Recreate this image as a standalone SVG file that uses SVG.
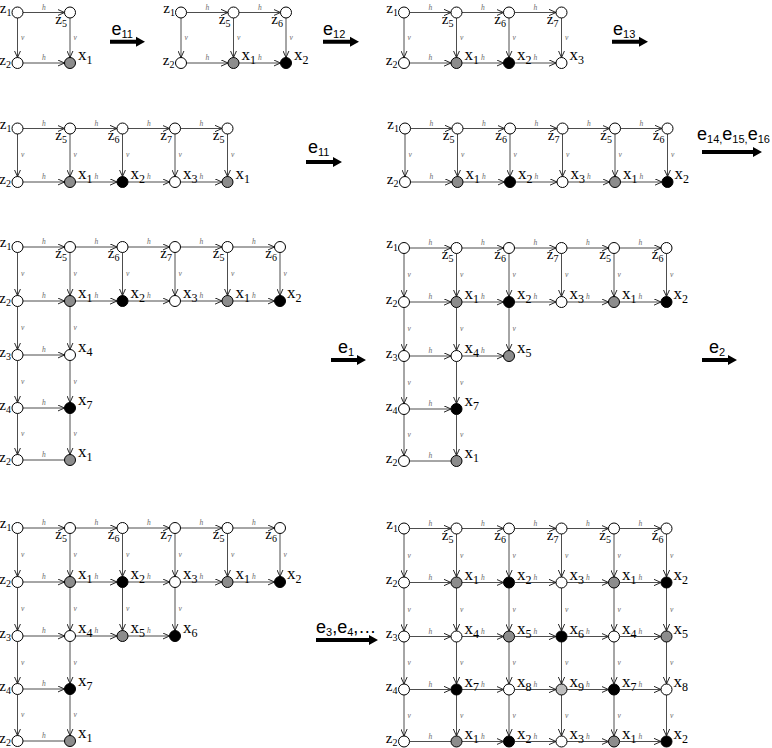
<svg xmlns="http://www.w3.org/2000/svg" width="772" height="748" viewBox="0 0 772 748">
<defs>
<marker id="ah" viewBox="0 0 10 10" refX="10" refY="5" markerWidth="7" markerHeight="7" markerUnits="userSpaceOnUse" orient="auto"><path d="M0,0.5 L10,5 L0,9.5" fill="none" stroke="#222" stroke-width="1.4"/></marker>
</defs>
<style>
.c line{stroke:#4d4d4d;stroke-width:1;marker-end:url(#ah)}
.c line.nm{marker-end:none}
.c text{font-family:"Liberation Serif",serif;font-style:italic;font-size:7.5px;fill:#6a6a6a}
.c text.h{text-anchor:middle}
circle{stroke:#000;stroke-width:1}
.w{fill:#fff}.g{fill:#8c8c8c}.b{fill:#000}.l{fill:#bdbdbd}
.z,.x{font-family:"Liberation Serif","Times New Roman",serif;fill:#000}
.z{font-size:15px;text-anchor:end}.z tspan{font-size:10px}
.x{font-size:17px}.x tspan{font-size:12px}
.big path{fill:#000}
.big text{font-family:"Liberation Sans",Arial,sans-serif;font-size:18px;fill:#000}
.big tspan{font-size:11px}.big tspan.m{font-size:18px}
</style>
<rect width="772" height="748" fill="#fff"/>

<!-- Panel A -->
<g id="panel-A" transform="translate(17.5,12.5)">
<g id="A-edges" class="c">
<line x1="5.5" y1="0" x2="47" y2="0"/><text class="h" x="26.25" y="-3">h</text>
<line x1="5.5" y1="50.5" x2="47" y2="50.5"/><text class="h" x="26.25" y="47.5">h</text>
<line x1="0" y1="5.5" x2="0" y2="45"/><text x="3.5" y="27.25">v</text>
<line x1="52.5" y1="5.5" x2="52.5" y2="45"/><text x="56" y="27.25">v</text>
</g>
<g id="A-z1"><circle class="w" cx="0" cy="0" r="5.5"/><text class="z" x="-6" y="0">z<tspan dy="3">1</tspan></text></g>
<g id="A-z5"><circle class="w" cx="52.5" cy="0" r="5.5"/><text class="z" x="49.5" y="11">z<tspan dy="3">5</tspan></text></g>
<g id="A-z2"><circle class="w" cx="0" cy="50.5" r="5.5"/><text class="z" x="-6.5" y="52">z<tspan dy="3">2</tspan></text></g>
<g id="A-x1"><circle class="g" cx="52.5" cy="50.5" r="5.5"/><text class="x" x="60.5" y="47.5">x<tspan dy="4">1</tspan></text></g>
</g>

<!-- Panel B -->
<g id="panel-B" transform="translate(181,12.5)">
<g id="B-edges" class="c">
<line x1="5.5" y1="0" x2="47" y2="0"/><text class="h" x="26.25" y="-3">h</text>
<line x1="58" y1="0" x2="99.5" y2="0"/><text class="h" x="78.75" y="-3">h</text>
<line x1="5.5" y1="50.5" x2="47" y2="50.5"/><text class="h" x="26.25" y="47.5">h</text>
<line x1="58" y1="50.5" x2="99.5" y2="50.5"/><text class="h" x="78.75" y="47.5">h</text>
<line x1="0" y1="5.5" x2="0" y2="45"/><text x="3.5" y="27.25">v</text>
<line x1="52.5" y1="5.5" x2="52.5" y2="45"/><text x="56" y="27.25">v</text>
<line x1="105" y1="5.5" x2="105" y2="45"/><text x="108.5" y="27.25">v</text>
</g>
<g id="B-z1"><circle class="w" cx="0" cy="0" r="5.5"/><text class="z" x="-6" y="0">z<tspan dy="3">1</tspan></text></g>
<g id="B-z5"><circle class="w" cx="52.5" cy="0" r="5.5"/><text class="z" x="49.5" y="11">z<tspan dy="3">5</tspan></text></g>
<g id="B-z6"><circle class="w" cx="105" cy="0" r="5.5"/><text class="z" x="102" y="11">z<tspan dy="3">6</tspan></text></g>
<g id="B-z2"><circle class="w" cx="0" cy="50.5" r="5.5"/><text class="z" x="-6.5" y="52">z<tspan dy="3">2</tspan></text></g>
<g id="B-x1"><circle class="g" cx="52.5" cy="50.5" r="5.5"/><text class="x" x="60.5" y="47.5">x<tspan dy="4">1</tspan></text></g>
<g id="B-x2"><circle class="b" cx="105" cy="50.5" r="5.5"/><text class="x" x="113" y="47.5">x<tspan dy="4">2</tspan></text></g>
</g>

<!-- Panel C -->
<g id="panel-C" transform="translate(404,12.5)">
<g id="C-edges" class="c">
<line x1="5.5" y1="0" x2="47" y2="0"/><text class="h" x="26.25" y="-3">h</text>
<line x1="58" y1="0" x2="99.5" y2="0"/><text class="h" x="78.75" y="-3">h</text>
<line x1="110.5" y1="0" x2="152" y2="0"/><text class="h" x="131.25" y="-3">h</text>
<line x1="5.5" y1="50.5" x2="47" y2="50.5"/><text class="h" x="26.25" y="47.5">h</text>
<line x1="58" y1="50.5" x2="99.5" y2="50.5"/><text class="h" x="78.75" y="47.5">h</text>
<line x1="110.5" y1="50.5" x2="152" y2="50.5"/><text class="h" x="131.25" y="47.5">h</text>
<line x1="0" y1="5.5" x2="0" y2="45"/><text x="3.5" y="27.25">v</text>
<line x1="52.5" y1="5.5" x2="52.5" y2="45"/><text x="56" y="27.25">v</text>
<line x1="105" y1="5.5" x2="105" y2="45"/><text x="108.5" y="27.25">v</text>
<line x1="157.5" y1="5.5" x2="157.5" y2="45"/><text x="161" y="27.25">v</text>
</g>
<g id="C-z1"><circle class="w" cx="0" cy="0" r="5.5"/><text class="z" x="-6" y="0">z<tspan dy="3">1</tspan></text></g>
<g id="C-z5"><circle class="w" cx="52.5" cy="0" r="5.5"/><text class="z" x="49.5" y="11">z<tspan dy="3">5</tspan></text></g>
<g id="C-z6"><circle class="w" cx="105" cy="0" r="5.5"/><text class="z" x="102" y="11">z<tspan dy="3">6</tspan></text></g>
<g id="C-z7"><circle class="w" cx="157.5" cy="0" r="5.5"/><text class="z" x="154.5" y="11">z<tspan dy="3">7</tspan></text></g>
<g id="C-z2"><circle class="w" cx="0" cy="50.5" r="5.5"/><text class="z" x="-6.5" y="52">z<tspan dy="3">2</tspan></text></g>
<g id="C-x1"><circle class="g" cx="52.5" cy="50.5" r="5.5"/><text class="x" x="60.5" y="47.5">x<tspan dy="4">1</tspan></text></g>
<g id="C-x2"><circle class="b" cx="105" cy="50.5" r="5.5"/><text class="x" x="113" y="47.5">x<tspan dy="4">2</tspan></text></g>
<g id="C-x3"><circle class="w" cx="157.5" cy="50.5" r="5.5"/><text class="x" x="165.5" y="47.5">x<tspan dy="4">3</tspan></text></g>
</g>

<!-- Panel D -->
<g id="panel-D" transform="translate(17.5,128.5)">
<g id="D-edges" class="c">
<line x1="5.5" y1="0" x2="47" y2="0"/><text class="h" x="26.25" y="-3">h</text>
<line x1="58" y1="0" x2="99.5" y2="0"/><text class="h" x="78.75" y="-3">h</text>
<line x1="110.5" y1="0" x2="152" y2="0"/><text class="h" x="131.25" y="-3">h</text>
<line x1="163" y1="0" x2="204.5" y2="0"/><text class="h" x="183.75" y="-3">h</text>
<line x1="5.5" y1="53.5" x2="47" y2="53.5"/><text class="h" x="26.25" y="50.5">h</text>
<line x1="58" y1="53.5" x2="99.5" y2="53.5"/><text class="h" x="78.75" y="50.5">h</text>
<line x1="110.5" y1="53.5" x2="152" y2="53.5"/><text class="h" x="131.25" y="50.5">h</text>
<line x1="163" y1="53.5" x2="204.5" y2="53.5"/><text class="h" x="183.75" y="50.5">h</text>
<line x1="0" y1="5.5" x2="0" y2="48"/><text x="3.5" y="28.75">v</text>
<line x1="52.5" y1="5.5" x2="52.5" y2="48"/><text x="56" y="28.75">v</text>
<line x1="105" y1="5.5" x2="105" y2="48"/><text x="108.5" y="28.75">v</text>
<line x1="157.5" y1="5.5" x2="157.5" y2="48"/><text x="161" y="28.75">v</text>
<line x1="210" y1="5.5" x2="210" y2="48"/><text x="213.5" y="28.75">v</text>
</g>
<g id="D-z1"><circle class="w" cx="0" cy="0" r="5.5"/><text class="z" x="-6" y="0">z<tspan dy="3">1</tspan></text></g>
<g id="D-z5a"><circle class="w" cx="52.5" cy="0" r="5.5"/><text class="z" x="49.5" y="11">z<tspan dy="3">5</tspan></text></g>
<g id="D-z6"><circle class="w" cx="105" cy="0" r="5.5"/><text class="z" x="102" y="11">z<tspan dy="3">6</tspan></text></g>
<g id="D-z7"><circle class="w" cx="157.5" cy="0" r="5.5"/><text class="z" x="154.5" y="11">z<tspan dy="3">7</tspan></text></g>
<g id="D-z5b"><circle class="w" cx="210" cy="0" r="5.5"/><text class="z" x="207" y="11">z<tspan dy="3">5</tspan></text></g>
<g id="D-z2"><circle class="w" cx="0" cy="53.5" r="5.5"/><text class="z" x="-6.5" y="55">z<tspan dy="3">2</tspan></text></g>
<g id="D-x1a"><circle class="g" cx="52.5" cy="53.5" r="5.5"/><text class="x" x="60.5" y="50.5">x<tspan dy="4">1</tspan></text></g>
<g id="D-x2"><circle class="b" cx="105" cy="53.5" r="5.5"/><text class="x" x="113" y="50.5">x<tspan dy="4">2</tspan></text></g>
<g id="D-x3"><circle class="w" cx="157.5" cy="53.5" r="5.5"/><text class="x" x="165.5" y="50.5">x<tspan dy="4">3</tspan></text></g>
<g id="D-x1b"><circle class="g" cx="210" cy="53.5" r="5.5"/><text class="x" x="218" y="50.5">x<tspan dy="4">1</tspan></text></g>
</g>

<!-- Panel E -->
<g id="panel-E" transform="translate(405,128.5)">
<g id="E-edges" class="c">
<line x1="5.5" y1="0" x2="47" y2="0"/><text class="h" x="26.25" y="-3">h</text>
<line x1="58" y1="0" x2="99.5" y2="0"/><text class="h" x="78.75" y="-3">h</text>
<line x1="110.5" y1="0" x2="152" y2="0"/><text class="h" x="131.25" y="-3">h</text>
<line x1="163" y1="0" x2="204.5" y2="0"/><text class="h" x="183.75" y="-3">h</text>
<line x1="215.5" y1="0" x2="257" y2="0"/><text class="h" x="236.25" y="-3">h</text>
<line x1="5.5" y1="53.5" x2="47" y2="53.5"/><text class="h" x="26.25" y="50.5">h</text>
<line x1="58" y1="53.5" x2="99.5" y2="53.5"/><text class="h" x="78.75" y="50.5">h</text>
<line x1="110.5" y1="53.5" x2="152" y2="53.5"/><text class="h" x="131.25" y="50.5">h</text>
<line x1="163" y1="53.5" x2="204.5" y2="53.5"/><text class="h" x="183.75" y="50.5">h</text>
<line x1="215.5" y1="53.5" x2="257" y2="53.5"/><text class="h" x="236.25" y="50.5">h</text>
<line x1="0" y1="5.5" x2="0" y2="48"/><text x="3.5" y="28.75">v</text>
<line x1="52.5" y1="5.5" x2="52.5" y2="48"/><text x="56" y="28.75">v</text>
<line x1="105" y1="5.5" x2="105" y2="48"/><text x="108.5" y="28.75">v</text>
<line x1="157.5" y1="5.5" x2="157.5" y2="48"/><text x="161" y="28.75">v</text>
<line x1="210" y1="5.5" x2="210" y2="48"/><text x="213.5" y="28.75">v</text>
<line x1="262.5" y1="5.5" x2="262.5" y2="48"/><text x="266" y="28.75">v</text>
</g>
<g id="E-z1"><circle class="w" cx="0" cy="0" r="5.5"/><text class="z" x="-6" y="0">z<tspan dy="3">1</tspan></text></g>
<g id="E-z5a"><circle class="w" cx="52.5" cy="0" r="5.5"/><text class="z" x="49.5" y="11">z<tspan dy="3">5</tspan></text></g>
<g id="E-z6a"><circle class="w" cx="105" cy="0" r="5.5"/><text class="z" x="102" y="11">z<tspan dy="3">6</tspan></text></g>
<g id="E-z7"><circle class="w" cx="157.5" cy="0" r="5.5"/><text class="z" x="154.5" y="11">z<tspan dy="3">7</tspan></text></g>
<g id="E-z5b"><circle class="w" cx="210" cy="0" r="5.5"/><text class="z" x="207" y="11">z<tspan dy="3">5</tspan></text></g>
<g id="E-z6b"><circle class="w" cx="262.5" cy="0" r="5.5"/><text class="z" x="259.5" y="11">z<tspan dy="3">6</tspan></text></g>
<g id="E-z2"><circle class="w" cx="0" cy="53.5" r="5.5"/><text class="z" x="-6.5" y="55">z<tspan dy="3">2</tspan></text></g>
<g id="E-x1a"><circle class="g" cx="52.5" cy="53.5" r="5.5"/><text class="x" x="60.5" y="50.5">x<tspan dy="4">1</tspan></text></g>
<g id="E-x2a"><circle class="b" cx="105" cy="53.5" r="5.5"/><text class="x" x="113" y="50.5">x<tspan dy="4">2</tspan></text></g>
<g id="E-x3"><circle class="w" cx="157.5" cy="53.5" r="5.5"/><text class="x" x="165.5" y="50.5">x<tspan dy="4">3</tspan></text></g>
<g id="E-x1b"><circle class="g" cx="210" cy="53.5" r="5.5"/><text class="x" x="218" y="50.5">x<tspan dy="4">1</tspan></text></g>
<g id="E-x2b"><circle class="b" cx="262.5" cy="53.5" r="5.5"/><text class="x" x="269.5" y="50.5">x<tspan dy="4">2</tspan></text></g>
</g>

<!-- Panel F -->
<g id="panel-F" transform="translate(17.5,247)">
<g id="F-edges" class="c">
<line x1="5.5" y1="0" x2="47" y2="0"/><text class="h" x="26.25" y="-3">h</text>
<line x1="58" y1="0" x2="99.5" y2="0"/><text class="h" x="78.75" y="-3">h</text>
<line x1="110.5" y1="0" x2="152" y2="0"/><text class="h" x="131.25" y="-3">h</text>
<line x1="163" y1="0" x2="204.5" y2="0"/><text class="h" x="183.75" y="-3">h</text>
<line x1="215.5" y1="0" x2="257" y2="0"/><text class="h" x="236.25" y="-3">h</text>
<line x1="5.5" y1="54" x2="47" y2="54"/><text class="h" x="26.25" y="51">h</text>
<line x1="58" y1="54" x2="99.5" y2="54"/><text class="h" x="78.75" y="51">h</text>
<line x1="110.5" y1="54" x2="152" y2="54"/><text class="h" x="131.25" y="51">h</text>
<line x1="163" y1="54" x2="204.5" y2="54"/><text class="h" x="183.75" y="51">h</text>
<line x1="215.5" y1="54" x2="257" y2="54"/><text class="h" x="236.25" y="51">h</text>
<line x1="5.5" y1="108" x2="47" y2="108"/><text class="h" x="26.25" y="105">h</text>
<line x1="5.5" y1="161" x2="47" y2="161"/><text class="h" x="26.25" y="158">h</text>
<line class="nm" x1="5.5" y1="213" x2="47" y2="213"/><text class="h" x="26.25" y="210">h</text>
<line x1="0" y1="5.5" x2="0" y2="48.5"/><text x="3.5" y="29">v</text>
<line x1="52.5" y1="5.5" x2="52.5" y2="48.5"/><text x="56" y="29">v</text>
<line x1="105" y1="5.5" x2="105" y2="48.5"/><text x="108.5" y="29">v</text>
<line x1="157.5" y1="5.5" x2="157.5" y2="48.5"/><text x="161" y="29">v</text>
<line x1="210" y1="5.5" x2="210" y2="48.5"/><text x="213.5" y="29">v</text>
<line x1="262.5" y1="5.5" x2="262.5" y2="48.5"/><text x="266" y="29">v</text>
<line x1="0" y1="59.5" x2="0" y2="102.5"/><text x="3.5" y="83">v</text>
<line x1="0" y1="113.5" x2="0" y2="155.5"/><text x="3.5" y="136.5">v</text>
<line x1="0" y1="166.5" x2="0" y2="207.5"/><text x="3.5" y="189">v</text>
<line x1="52.5" y1="59.5" x2="52.5" y2="102.5"/><text x="56" y="83">v</text>
<line x1="52.5" y1="113.5" x2="52.5" y2="155.5"/><text x="56" y="136.5">v</text>
<line x1="52.5" y1="166.5" x2="52.5" y2="207.5"/><text x="56" y="189">v</text>
</g>
<g id="F-z1"><circle class="w" cx="0" cy="0" r="5.5"/><text class="z" x="-6" y="0">z<tspan dy="3">1</tspan></text></g>
<g id="F-z5a"><circle class="w" cx="52.5" cy="0" r="5.5"/><text class="z" x="49.5" y="11">z<tspan dy="3">5</tspan></text></g>
<g id="F-z6a"><circle class="w" cx="105" cy="0" r="5.5"/><text class="z" x="102" y="11">z<tspan dy="3">6</tspan></text></g>
<g id="F-z7"><circle class="w" cx="157.5" cy="0" r="5.5"/><text class="z" x="154.5" y="11">z<tspan dy="3">7</tspan></text></g>
<g id="F-z5b"><circle class="w" cx="210" cy="0" r="5.5"/><text class="z" x="207" y="11">z<tspan dy="3">5</tspan></text></g>
<g id="F-z6b"><circle class="w" cx="262.5" cy="0" r="5.5"/><text class="z" x="259.5" y="11">z<tspan dy="3">6</tspan></text></g>
<g id="F-z2a"><circle class="w" cx="0" cy="54" r="5.5"/><text class="z" x="-6.5" y="55.5">z<tspan dy="3">2</tspan></text></g>
<g id="F-x1a"><circle class="g" cx="52.5" cy="54" r="5.5"/><text class="x" x="60.5" y="51">x<tspan dy="4">1</tspan></text></g>
<g id="F-x2a"><circle class="b" cx="105" cy="54" r="5.5"/><text class="x" x="113" y="51">x<tspan dy="4">2</tspan></text></g>
<g id="F-x3"><circle class="w" cx="157.5" cy="54" r="5.5"/><text class="x" x="165.5" y="51">x<tspan dy="4">3</tspan></text></g>
<g id="F-x1b"><circle class="g" cx="210" cy="54" r="5.5"/><text class="x" x="218" y="51">x<tspan dy="4">1</tspan></text></g>
<g id="F-x2b"><circle class="b" cx="262.5" cy="54" r="5.5"/><text class="x" x="269.5" y="51">x<tspan dy="4">2</tspan></text></g>
<g id="F-z3"><circle class="w" cx="0" cy="108" r="5.5"/><text class="z" x="-6.5" y="109.5">z<tspan dy="3">3</tspan></text></g>
<g id="F-x4"><circle class="w" cx="52.5" cy="108" r="5.5"/><text class="x" x="60.5" y="105">x<tspan dy="4">4</tspan></text></g>
<g id="F-z4"><circle class="w" cx="0" cy="161" r="5.5"/><text class="z" x="-6.5" y="162.5">z<tspan dy="3">4</tspan></text></g>
<g id="F-x7"><circle class="b" cx="52.5" cy="161" r="5.5"/><text class="x" x="60.5" y="158">x<tspan dy="4">7</tspan></text></g>
<g id="F-z2b"><circle class="w" cx="0" cy="213" r="5.5"/><text class="z" x="-6.5" y="214.5">z<tspan dy="3">2</tspan></text></g>
<g id="F-x1c"><circle class="g" cx="52.5" cy="213" r="5.5"/><text class="x" x="60.5" y="210">x<tspan dy="4">1</tspan></text></g>
</g>

<!-- Panel G -->
<g id="panel-G" transform="translate(404,248)">
<g id="G-edges" class="c">
<line x1="5.5" y1="0" x2="47" y2="0"/><text class="h" x="26.25" y="-3">h</text>
<line x1="58" y1="0" x2="99.5" y2="0"/><text class="h" x="78.75" y="-3">h</text>
<line x1="110.5" y1="0" x2="152" y2="0"/><text class="h" x="131.25" y="-3">h</text>
<line x1="163" y1="0" x2="204.5" y2="0"/><text class="h" x="183.75" y="-3">h</text>
<line x1="215.5" y1="0" x2="257" y2="0"/><text class="h" x="236.25" y="-3">h</text>
<line x1="5.5" y1="54" x2="47" y2="54"/><text class="h" x="26.25" y="51">h</text>
<line x1="58" y1="54" x2="99.5" y2="54"/><text class="h" x="78.75" y="51">h</text>
<line x1="110.5" y1="54" x2="152" y2="54"/><text class="h" x="131.25" y="51">h</text>
<line x1="163" y1="54" x2="204.5" y2="54"/><text class="h" x="183.75" y="51">h</text>
<line x1="215.5" y1="54" x2="257" y2="54"/><text class="h" x="236.25" y="51">h</text>
<line x1="5.5" y1="108" x2="47" y2="108"/><text class="h" x="26.25" y="105">h</text>
<line x1="58" y1="108" x2="99.5" y2="108"/><text class="h" x="78.75" y="105">h</text>
<line x1="5.5" y1="161" x2="47" y2="161"/><text class="h" x="26.25" y="158">h</text>
<line class="nm" x1="5.5" y1="213" x2="47" y2="213"/><text class="h" x="26.25" y="210">h</text>
<line x1="0" y1="5.5" x2="0" y2="48.5"/><text x="3.5" y="29">v</text>
<line x1="52.5" y1="5.5" x2="52.5" y2="48.5"/><text x="56" y="29">v</text>
<line x1="105" y1="5.5" x2="105" y2="48.5"/><text x="108.5" y="29">v</text>
<line x1="157.5" y1="5.5" x2="157.5" y2="48.5"/><text x="161" y="29">v</text>
<line x1="210" y1="5.5" x2="210" y2="48.5"/><text x="213.5" y="29">v</text>
<line x1="262.5" y1="5.5" x2="262.5" y2="48.5"/><text x="266" y="29">v</text>
<line x1="0" y1="59.5" x2="0" y2="102.5"/><text x="3.5" y="83">v</text>
<line x1="0" y1="113.5" x2="0" y2="155.5"/><text x="3.5" y="136.5">v</text>
<line x1="0" y1="166.5" x2="0" y2="207.5"/><text x="3.5" y="189">v</text>
<line x1="52.5" y1="59.5" x2="52.5" y2="102.5"/><text x="56" y="83">v</text>
<line x1="52.5" y1="113.5" x2="52.5" y2="155.5"/><text x="56" y="136.5">v</text>
<line x1="52.5" y1="166.5" x2="52.5" y2="207.5"/><text x="56" y="189">v</text>
<line x1="105" y1="59.5" x2="105" y2="102.5"/><text x="108.5" y="83">v</text>
</g>
<g id="G-z1"><circle class="w" cx="0" cy="0" r="5.5"/><text class="z" x="-6" y="0">z<tspan dy="3">1</tspan></text></g>
<g id="G-z5a"><circle class="w" cx="52.5" cy="0" r="5.5"/><text class="z" x="49.5" y="11">z<tspan dy="3">5</tspan></text></g>
<g id="G-z6a"><circle class="w" cx="105" cy="0" r="5.5"/><text class="z" x="102" y="11">z<tspan dy="3">6</tspan></text></g>
<g id="G-z7"><circle class="w" cx="157.5" cy="0" r="5.5"/><text class="z" x="154.5" y="11">z<tspan dy="3">7</tspan></text></g>
<g id="G-z5b"><circle class="w" cx="210" cy="0" r="5.5"/><text class="z" x="207" y="11">z<tspan dy="3">5</tspan></text></g>
<g id="G-z6b"><circle class="w" cx="262.5" cy="0" r="5.5"/><text class="z" x="259.5" y="11">z<tspan dy="3">6</tspan></text></g>
<g id="G-z2a"><circle class="w" cx="0" cy="54" r="5.5"/><text class="z" x="-6.5" y="55.5">z<tspan dy="3">2</tspan></text></g>
<g id="G-x1a"><circle class="g" cx="52.5" cy="54" r="5.5"/><text class="x" x="60.5" y="51">x<tspan dy="4">1</tspan></text></g>
<g id="G-x2a"><circle class="b" cx="105" cy="54" r="5.5"/><text class="x" x="113" y="51">x<tspan dy="4">2</tspan></text></g>
<g id="G-x3"><circle class="w" cx="157.5" cy="54" r="5.5"/><text class="x" x="165.5" y="51">x<tspan dy="4">3</tspan></text></g>
<g id="G-x1b"><circle class="g" cx="210" cy="54" r="5.5"/><text class="x" x="218" y="51">x<tspan dy="4">1</tspan></text></g>
<g id="G-x2b"><circle class="b" cx="262.5" cy="54" r="5.5"/><text class="x" x="269.5" y="51">x<tspan dy="4">2</tspan></text></g>
<g id="G-z3"><circle class="w" cx="0" cy="108" r="5.5"/><text class="z" x="-6.5" y="109.5">z<tspan dy="3">3</tspan></text></g>
<g id="G-x4"><circle class="w" cx="52.5" cy="108" r="5.5"/><text class="x" x="60.5" y="105">x<tspan dy="4">4</tspan></text></g>
<g id="G-x5"><circle class="g" cx="105" cy="108" r="5.5"/><text class="x" x="113" y="105">x<tspan dy="4">5</tspan></text></g>
<g id="G-z4"><circle class="w" cx="0" cy="161" r="5.5"/><text class="z" x="-6.5" y="162.5">z<tspan dy="3">4</tspan></text></g>
<g id="G-x7"><circle class="b" cx="52.5" cy="161" r="5.5"/><text class="x" x="60.5" y="158">x<tspan dy="4">7</tspan></text></g>
<g id="G-z2b"><circle class="w" cx="0" cy="213" r="5.5"/><text class="z" x="-6.5" y="214.5">z<tspan dy="3">2</tspan></text></g>
<g id="G-x1c"><circle class="g" cx="52.5" cy="213" r="5.5"/><text class="x" x="60.5" y="210">x<tspan dy="4">1</tspan></text></g>
</g>

<!-- Panel H -->
<g id="panel-H" transform="translate(17.5,528)">
<g id="H-edges" class="c">
<line x1="5.5" y1="0" x2="47" y2="0"/><text class="h" x="26.25" y="-3">h</text>
<line x1="58" y1="0" x2="99.5" y2="0"/><text class="h" x="78.75" y="-3">h</text>
<line x1="110.5" y1="0" x2="152" y2="0"/><text class="h" x="131.25" y="-3">h</text>
<line x1="163" y1="0" x2="204.5" y2="0"/><text class="h" x="183.75" y="-3">h</text>
<line x1="215.5" y1="0" x2="257" y2="0"/><text class="h" x="236.25" y="-3">h</text>
<line x1="5.5" y1="54" x2="47" y2="54"/><text class="h" x="26.25" y="51">h</text>
<line x1="58" y1="54" x2="99.5" y2="54"/><text class="h" x="78.75" y="51">h</text>
<line x1="110.5" y1="54" x2="152" y2="54"/><text class="h" x="131.25" y="51">h</text>
<line x1="163" y1="54" x2="204.5" y2="54"/><text class="h" x="183.75" y="51">h</text>
<line x1="215.5" y1="54" x2="257" y2="54"/><text class="h" x="236.25" y="51">h</text>
<line x1="5.5" y1="108" x2="47" y2="108"/><text class="h" x="26.25" y="105">h</text>
<line x1="58" y1="108" x2="99.5" y2="108"/><text class="h" x="78.75" y="105">h</text>
<line x1="110.5" y1="108" x2="152" y2="108"/><text class="h" x="131.25" y="105">h</text>
<line x1="5.5" y1="161" x2="47" y2="161"/><text class="h" x="26.25" y="158">h</text>
<line class="nm" x1="5.5" y1="213" x2="47" y2="213"/><text class="h" x="26.25" y="210">h</text>
<line x1="0" y1="5.5" x2="0" y2="48.5"/><text x="3.5" y="29">v</text>
<line x1="52.5" y1="5.5" x2="52.5" y2="48.5"/><text x="56" y="29">v</text>
<line x1="105" y1="5.5" x2="105" y2="48.5"/><text x="108.5" y="29">v</text>
<line x1="157.5" y1="5.5" x2="157.5" y2="48.5"/><text x="161" y="29">v</text>
<line x1="210" y1="5.5" x2="210" y2="48.5"/><text x="213.5" y="29">v</text>
<line x1="262.5" y1="5.5" x2="262.5" y2="48.5"/><text x="266" y="29">v</text>
<line x1="0" y1="59.5" x2="0" y2="102.5"/><text x="3.5" y="83">v</text>
<line x1="0" y1="113.5" x2="0" y2="155.5"/><text x="3.5" y="136.5">v</text>
<line x1="0" y1="166.5" x2="0" y2="207.5"/><text x="3.5" y="189">v</text>
<line x1="52.5" y1="59.5" x2="52.5" y2="102.5"/><text x="56" y="83">v</text>
<line x1="52.5" y1="113.5" x2="52.5" y2="155.5"/><text x="56" y="136.5">v</text>
<line x1="52.5" y1="166.5" x2="52.5" y2="207.5"/><text x="56" y="189">v</text>
<line x1="105" y1="59.5" x2="105" y2="102.5"/><text x="108.5" y="83">v</text>
<line x1="157.5" y1="59.5" x2="157.5" y2="102.5"/><text x="161" y="83">v</text>
</g>
<g id="H-z1"><circle class="w" cx="0" cy="0" r="5.5"/><text class="z" x="-6" y="0">z<tspan dy="3">1</tspan></text></g>
<g id="H-z5a"><circle class="w" cx="52.5" cy="0" r="5.5"/><text class="z" x="49.5" y="11">z<tspan dy="3">5</tspan></text></g>
<g id="H-z6a"><circle class="w" cx="105" cy="0" r="5.5"/><text class="z" x="102" y="11">z<tspan dy="3">6</tspan></text></g>
<g id="H-z7"><circle class="w" cx="157.5" cy="0" r="5.5"/><text class="z" x="154.5" y="11">z<tspan dy="3">7</tspan></text></g>
<g id="H-z5b"><circle class="w" cx="210" cy="0" r="5.5"/><text class="z" x="207" y="11">z<tspan dy="3">5</tspan></text></g>
<g id="H-z6b"><circle class="w" cx="262.5" cy="0" r="5.5"/><text class="z" x="259.5" y="11">z<tspan dy="3">6</tspan></text></g>
<g id="H-z2a"><circle class="w" cx="0" cy="54" r="5.5"/><text class="z" x="-6.5" y="55.5">z<tspan dy="3">2</tspan></text></g>
<g id="H-x1a"><circle class="g" cx="52.5" cy="54" r="5.5"/><text class="x" x="60.5" y="51">x<tspan dy="4">1</tspan></text></g>
<g id="H-x2a"><circle class="b" cx="105" cy="54" r="5.5"/><text class="x" x="113" y="51">x<tspan dy="4">2</tspan></text></g>
<g id="H-x3"><circle class="w" cx="157.5" cy="54" r="5.5"/><text class="x" x="165.5" y="51">x<tspan dy="4">3</tspan></text></g>
<g id="H-x1b"><circle class="g" cx="210" cy="54" r="5.5"/><text class="x" x="218" y="51">x<tspan dy="4">1</tspan></text></g>
<g id="H-x2b"><circle class="b" cx="262.5" cy="54" r="5.5"/><text class="x" x="269.5" y="51">x<tspan dy="4">2</tspan></text></g>
<g id="H-z3"><circle class="w" cx="0" cy="108" r="5.5"/><text class="z" x="-6.5" y="109.5">z<tspan dy="3">3</tspan></text></g>
<g id="H-x4"><circle class="w" cx="52.5" cy="108" r="5.5"/><text class="x" x="60.5" y="105">x<tspan dy="4">4</tspan></text></g>
<g id="H-x5"><circle class="g" cx="105" cy="108" r="5.5"/><text class="x" x="113" y="105">x<tspan dy="4">5</tspan></text></g>
<g id="H-x6"><circle class="b" cx="157.5" cy="108" r="5.5"/><text class="x" x="165.5" y="105">x<tspan dy="4">6</tspan></text></g>
<g id="H-z4"><circle class="w" cx="0" cy="161" r="5.5"/><text class="z" x="-6.5" y="162.5">z<tspan dy="3">4</tspan></text></g>
<g id="H-x7"><circle class="b" cx="52.5" cy="161" r="5.5"/><text class="x" x="60.5" y="158">x<tspan dy="4">7</tspan></text></g>
<g id="H-z2b"><circle class="w" cx="0" cy="213" r="5.5"/><text class="z" x="-6.5" y="214.5">z<tspan dy="3">2</tspan></text></g>
<g id="H-x1c"><circle class="g" cx="52.5" cy="213" r="5.5"/><text class="x" x="60.5" y="210">x<tspan dy="4">1</tspan></text></g>
</g>

<!-- Panel I -->
<g id="panel-I" transform="translate(404,528.5)">
<g id="I-edges" class="c">
<line x1="5.5" y1="0" x2="47" y2="0"/><text class="h" x="26.25" y="-3">h</text>
<line x1="58" y1="0" x2="99.5" y2="0"/><text class="h" x="78.75" y="-3">h</text>
<line x1="110.5" y1="0" x2="152" y2="0"/><text class="h" x="131.25" y="-3">h</text>
<line x1="163" y1="0" x2="204.5" y2="0"/><text class="h" x="183.75" y="-3">h</text>
<line x1="215.5" y1="0" x2="257" y2="0"/><text class="h" x="236.25" y="-3">h</text>
<line x1="5.5" y1="54" x2="47" y2="54"/><text class="h" x="26.25" y="51">h</text>
<line x1="58" y1="54" x2="99.5" y2="54"/><text class="h" x="78.75" y="51">h</text>
<line x1="110.5" y1="54" x2="152" y2="54"/><text class="h" x="131.25" y="51">h</text>
<line x1="163" y1="54" x2="204.5" y2="54"/><text class="h" x="183.75" y="51">h</text>
<line x1="215.5" y1="54" x2="257" y2="54"/><text class="h" x="236.25" y="51">h</text>
<line x1="5.5" y1="108" x2="47" y2="108"/><text class="h" x="26.25" y="105">h</text>
<line x1="58" y1="108" x2="99.5" y2="108"/><text class="h" x="78.75" y="105">h</text>
<line x1="110.5" y1="108" x2="152" y2="108"/><text class="h" x="131.25" y="105">h</text>
<line x1="163" y1="108" x2="204.5" y2="108"/><text class="h" x="183.75" y="105">h</text>
<line x1="215.5" y1="108" x2="257" y2="108"/><text class="h" x="236.25" y="105">h</text>
<line x1="5.5" y1="161" x2="47" y2="161"/><text class="h" x="26.25" y="158">h</text>
<line x1="58" y1="161" x2="99.5" y2="161"/><text class="h" x="78.75" y="158">h</text>
<line x1="110.5" y1="161" x2="152" y2="161"/><text class="h" x="131.25" y="158">h</text>
<line x1="163" y1="161" x2="204.5" y2="161"/><text class="h" x="183.75" y="158">h</text>
<line x1="215.5" y1="161" x2="257" y2="161"/><text class="h" x="236.25" y="158">h</text>
<line class="nm" x1="5.5" y1="213" x2="47" y2="213"/><text class="h" x="26.25" y="210">h</text>
<line x1="58" y1="213" x2="99.5" y2="213"/><text class="h" x="78.75" y="210">h</text>
<line x1="110.5" y1="213" x2="152" y2="213"/><text class="h" x="131.25" y="210">h</text>
<line x1="163" y1="213" x2="204.5" y2="213"/><text class="h" x="183.75" y="210">h</text>
<line x1="215.5" y1="213" x2="257" y2="213"/><text class="h" x="236.25" y="210">h</text>
<line x1="0" y1="5.5" x2="0" y2="48.5"/><text x="3.5" y="29">v</text>
<line x1="0" y1="59.5" x2="0" y2="102.5"/><text x="3.5" y="83">v</text>
<line x1="0" y1="113.5" x2="0" y2="155.5"/><text x="3.5" y="136.5">v</text>
<line x1="0" y1="166.5" x2="0" y2="207.5"/><text x="3.5" y="189">v</text>
<line x1="52.5" y1="5.5" x2="52.5" y2="48.5"/><text x="56" y="29">v</text>
<line x1="52.5" y1="59.5" x2="52.5" y2="102.5"/><text x="56" y="83">v</text>
<line x1="52.5" y1="113.5" x2="52.5" y2="155.5"/><text x="56" y="136.5">v</text>
<line x1="52.5" y1="166.5" x2="52.5" y2="207.5"/><text x="56" y="189">v</text>
<line x1="105" y1="5.5" x2="105" y2="48.5"/><text x="108.5" y="29">v</text>
<line x1="105" y1="59.5" x2="105" y2="102.5"/><text x="108.5" y="83">v</text>
<line x1="105" y1="113.5" x2="105" y2="155.5"/><text x="108.5" y="136.5">v</text>
<line x1="105" y1="166.5" x2="105" y2="207.5"/><text x="108.5" y="189">v</text>
<line x1="157.5" y1="5.5" x2="157.5" y2="48.5"/><text x="161" y="29">v</text>
<line x1="157.5" y1="59.5" x2="157.5" y2="102.5"/><text x="161" y="83">v</text>
<line x1="157.5" y1="113.5" x2="157.5" y2="155.5"/><text x="161" y="136.5">v</text>
<line x1="157.5" y1="166.5" x2="157.5" y2="207.5"/><text x="161" y="189">v</text>
<line x1="210" y1="5.5" x2="210" y2="48.5"/><text x="213.5" y="29">v</text>
<line x1="210" y1="59.5" x2="210" y2="102.5"/><text x="213.5" y="83">v</text>
<line x1="210" y1="113.5" x2="210" y2="155.5"/><text x="213.5" y="136.5">v</text>
<line x1="210" y1="166.5" x2="210" y2="207.5"/><text x="213.5" y="189">v</text>
<line x1="262.5" y1="5.5" x2="262.5" y2="48.5"/><text x="266" y="29">v</text>
<line x1="262.5" y1="59.5" x2="262.5" y2="102.5"/><text x="266" y="83">v</text>
<line x1="262.5" y1="113.5" x2="262.5" y2="155.5"/><text x="266" y="136.5">v</text>
<line x1="262.5" y1="166.5" x2="262.5" y2="207.5"/><text x="266" y="189">v</text>
</g>
<g id="I-z1"><circle class="w" cx="0" cy="0" r="5.5"/><text class="z" x="-6" y="0">z<tspan dy="3">1</tspan></text></g>
<g id="I-z5a"><circle class="w" cx="52.5" cy="0" r="5.5"/><text class="z" x="49.5" y="11">z<tspan dy="3">5</tspan></text></g>
<g id="I-z6a"><circle class="w" cx="105" cy="0" r="5.5"/><text class="z" x="102" y="11">z<tspan dy="3">6</tspan></text></g>
<g id="I-z7"><circle class="w" cx="157.5" cy="0" r="5.5"/><text class="z" x="154.5" y="11">z<tspan dy="3">7</tspan></text></g>
<g id="I-z5b"><circle class="w" cx="210" cy="0" r="5.5"/><text class="z" x="207" y="11">z<tspan dy="3">5</tspan></text></g>
<g id="I-z6b"><circle class="w" cx="262.5" cy="0" r="5.5"/><text class="z" x="259.5" y="11">z<tspan dy="3">6</tspan></text></g>
<g id="I-z2a"><circle class="w" cx="0" cy="54" r="5.5"/><text class="z" x="-6.5" y="55.5">z<tspan dy="3">2</tspan></text></g>
<g id="I-x1a"><circle class="g" cx="52.5" cy="54" r="5.5"/><text class="x" x="60.5" y="51">x<tspan dy="4">1</tspan></text></g>
<g id="I-x2a"><circle class="b" cx="105" cy="54" r="5.5"/><text class="x" x="113" y="51">x<tspan dy="4">2</tspan></text></g>
<g id="I-x3a"><circle class="w" cx="157.5" cy="54" r="5.5"/><text class="x" x="165.5" y="51">x<tspan dy="4">3</tspan></text></g>
<g id="I-x1b"><circle class="g" cx="210" cy="54" r="5.5"/><text class="x" x="218" y="51">x<tspan dy="4">1</tspan></text></g>
<g id="I-x2b"><circle class="b" cx="262.5" cy="54" r="5.5"/><text class="x" x="269.5" y="51">x<tspan dy="4">2</tspan></text></g>
<g id="I-z3"><circle class="w" cx="0" cy="108" r="5.5"/><text class="z" x="-6.5" y="109.5">z<tspan dy="3">3</tspan></text></g>
<g id="I-x4a"><circle class="w" cx="52.5" cy="108" r="5.5"/><text class="x" x="60.5" y="105">x<tspan dy="4">4</tspan></text></g>
<g id="I-x5a"><circle class="g" cx="105" cy="108" r="5.5"/><text class="x" x="113" y="105">x<tspan dy="4">5</tspan></text></g>
<g id="I-x6"><circle class="b" cx="157.5" cy="108" r="5.5"/><text class="x" x="165.5" y="105">x<tspan dy="4">6</tspan></text></g>
<g id="I-x4b"><circle class="w" cx="210" cy="108" r="5.5"/><text class="x" x="218" y="105">x<tspan dy="4">4</tspan></text></g>
<g id="I-x5b"><circle class="g" cx="262.5" cy="108" r="5.5"/><text class="x" x="269.5" y="105">x<tspan dy="4">5</tspan></text></g>
<g id="I-z4"><circle class="w" cx="0" cy="161" r="5.5"/><text class="z" x="-6.5" y="162.5">z<tspan dy="3">4</tspan></text></g>
<g id="I-x7a"><circle class="b" cx="52.5" cy="161" r="5.5"/><text class="x" x="60.5" y="158">x<tspan dy="4">7</tspan></text></g>
<g id="I-x8a"><circle class="w" cx="105" cy="161" r="5.5"/><text class="x" x="113" y="158">x<tspan dy="4">8</tspan></text></g>
<g id="I-x9"><circle class="l" cx="157.5" cy="161" r="5.5"/><text class="x" x="165.5" y="158">x<tspan dy="4">9</tspan></text></g>
<g id="I-x7b"><circle class="b" cx="210" cy="161" r="5.5"/><text class="x" x="218" y="158">x<tspan dy="4">7</tspan></text></g>
<g id="I-x8b"><circle class="w" cx="262.5" cy="161" r="5.5"/><text class="x" x="269.5" y="158">x<tspan dy="4">8</tspan></text></g>
<g id="I-z2b"><circle class="w" cx="0" cy="213" r="5.5"/><text class="z" x="-6.5" y="214.5">z<tspan dy="3">2</tspan></text></g>
<g id="I-x1c"><circle class="g" cx="52.5" cy="213" r="5.5"/><text class="x" x="60.5" y="210">x<tspan dy="4">1</tspan></text></g>
<g id="I-x2c"><circle class="b" cx="105" cy="213" r="5.5"/><text class="x" x="113" y="210">x<tspan dy="4">2</tspan></text></g>
<g id="I-x3b"><circle class="w" cx="157.5" cy="213" r="5.5"/><text class="x" x="165.5" y="210">x<tspan dy="4">3</tspan></text></g>
<g id="I-x1d"><circle class="g" cx="210" cy="213" r="5.5"/><text class="x" x="218" y="210">x<tspan dy="4">1</tspan></text></g>
<g id="I-x2d"><circle class="b" cx="262.5" cy="213" r="5.5"/><text class="x" x="269.5" y="210">x<tspan dy="4">2</tspan></text></g>
</g>

<!-- Transition arrows -->
<g id="transitions" class="big">
<g id="t-e11a"><path d="M110,39.7 H136 V36.7 L145,41.7 L136,46.7 V43.7 H110 Z"/><text x="111.5" y="35">e<tspan dy="3">11</tspan></text></g>
<g id="t-e12"><path d="M323,39.7 H350 V36.7 L359,41.7 L350,46.7 V43.7 H323 Z"/><text x="323" y="35">e<tspan dy="3">12</tspan></text></g>
<g id="t-e13"><path d="M612,39.7 H639 V36.7 L648,41.7 L639,46.7 V43.7 H612 Z"/><text x="613" y="35">e<tspan dy="3">13</tspan></text></g>
<g id="t-e11b"><path d="M306,160 H333 V157 L342,162 L333,167 V164 H306 Z"/><text x="308" y="153">e<tspan dy="3">11</tspan></text></g>
<g id="t-e14"><path d="M702,150 H753 V147 L762,152 L753,157 V154 H702 Z"/><text x="697" y="140">e<tspan dy="3">14,</tspan><tspan class="m" dy="-3">e</tspan><tspan dy="3">15,</tspan><tspan class="m" dy="-3">e</tspan><tspan dy="3">16</tspan></text></g>
<g id="t-e1"><path d="M331,358 H357 V355 L366,360 L357,365 V362 H331 Z"/><text x="338" y="353">e<tspan dy="3">1</tspan></text></g>
<g id="t-e2"><path d="M702,358 H728 V355 L737,360 L728,365 V362 H702 Z"/><text x="709" y="353">e<tspan dy="3">2</tspan></text></g>
<g id="t-e3"><path d="M316,638 H369 V635 L378,640 L369,645 V642 H316 Z"/><text x="316" y="633">e<tspan dy="3">3</tspan><tspan class="m" dy="-3">,e</tspan><tspan dy="3">4</tspan><tspan class="m" dy="-3">,…</tspan></text></g>
</g>
</svg>
